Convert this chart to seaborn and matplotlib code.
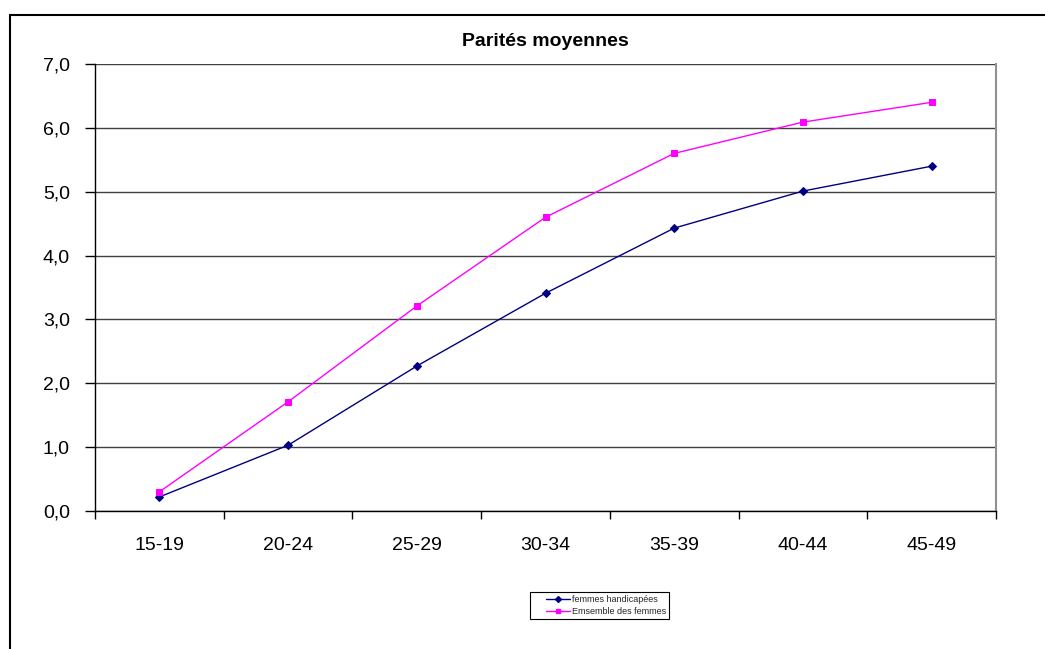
import matplotlib
matplotlib.use("Agg")
import matplotlib.pyplot as plt
from matplotlib.lines import Line2D
from matplotlib.legend_handler import HandlerLine2D
from matplotlib.ticker import FixedLocator, FuncFormatter
import pandas as pd
import seaborn as sns

# Age groups and mean parity per group
age_groups = ["15-19", "20-24", "25-29", "30-34", "35-39", "40-44", "45-49"]
femmes_handicapees = [0.22, 1.03, 2.27, 3.41, 4.43, 5.01, 5.40]
ensemble_femmes = [0.30, 1.71, 3.21, 4.60, 5.60, 6.09, 6.40]
series_names = ["femmes handicapées", "Emsemble des femmes"]
title = "Parités moyennes"

df = pd.DataFrame({
    "age": age_groups * 2,
    "parite": femmes_handicapees + ensemble_femmes,
    "serie": [series_names[0]] * len(age_groups) + [series_names[1]] * len(age_groups),
})

sns.set_theme(style="white")
plt.rcParams["font.family"] = ["Liberation Sans", "DejaVu Sans"]

fig = plt.figure(figsize=(10.45, 6.49), dpi=100)
ax = fig.add_axes([95 / 1045, 1 - 511 / 649, (996 - 95) / 1045, (511 - 64) / 649])

palette = {series_names[0]: "#000080", series_names[1]: "#FF00FF"}
sns.pointplot(
    data=df, x="age", y="parite", hue="serie", order=age_groups,
    hue_order=series_names, palette=palette, markers=["D", "s"],
    linestyles=["-", "-"], linewidth=1.0, markersize=4.5, errorbar=None,
    ax=ax, legend=False,
)

ax.set_xlim(-0.5, len(age_groups) - 0.5)
ax.set_ylim(0, 7)
ax.set_xlabel("")
ax.set_ylabel("")

# Horizontal gridlines at each unit
ax.yaxis.set_major_locator(FixedLocator(range(0, 8)))
ax.yaxis.set_major_formatter(FuncFormatter(lambda v, _: f"{v:.1f}".replace(".", ",")))
ax.grid(axis="y", color="#404040", linewidth=1.0)
ax.grid(axis="x", visible=False)
ax.set_axisbelow(True)

# Category labels centred, tick marks on category boundaries
ax.set_xticks(range(len(age_groups)))
ax.set_xticklabels(age_groups)
ax.set_xticks([i - 0.5 for i in range(len(age_groups) + 1)], minor=True)
ax.tick_params(axis="x", which="major", length=0, pad=19, labelsize=14, colors="black")
ax.tick_params(axis="x", which="minor", length=6, width=1, color="black", direction="out", bottom=True)
ax.tick_params(axis="y", which="major", length=7, width=1, color="black", direction="out",
               left=True, pad=11, labelsize=14, labelcolor="black")

for side in ("left", "bottom"):
    ax.spines[side].set_color("black")
    ax.spines[side].set_linewidth(1.0)
ax.spines["right"].set_color("#909090")
ax.spines["right"].set_linewidth(1.5)
ax.spines["top"].set_visible(False)

ax.set_title(title, fontsize=14, fontweight="bold", pad=13, color="black")

# Legend box below the chart
handles = [
    Line2D([], [], color="#000080", marker="D", markersize=3, linewidth=1.0),
    Line2D([], [], color="#FF00FF", marker="s", markersize=3.5, linewidth=1.0),
]
leg = fig.legend(
    handles, series_names, loc="lower left",
    bbox_to_anchor=(530 / 1045, 1 - 619 / 649), bbox_transform=fig.transFigure,
    fontsize=6.5, frameon=True, fancybox=False, framealpha=1, edgecolor="black",
    handlelength=4.1, handletextpad=0.15, borderpad=0.35, labelspacing=0.3, borderaxespad=0,
    handler_map={Line2D: HandlerLine2D(xpad=1.4)},
)
leg.get_frame().set_linewidth(0.8)

# Outer chart frame
fig.add_artist(Line2D([10 / 1045, 1], [1 - 15 / 649] * 2, color="black", linewidth=1.5,
                      transform=fig.transFigure))
fig.add_artist(Line2D([10 / 1045] * 2, [0, 1 - 15 / 649], color="black", linewidth=1.5,
                      transform=fig.transFigure))

fig.savefig("out.png", dpi=100, facecolor="white")
